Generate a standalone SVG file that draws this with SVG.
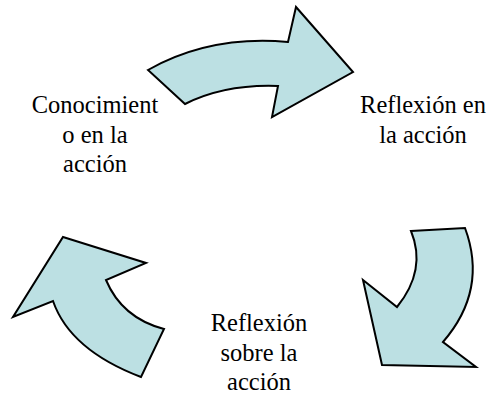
<svg xmlns="http://www.w3.org/2000/svg" width="490" height="394" viewBox="0 0 490 394">
<style>
.arrow{fill:#bce0e3;stroke:#000;stroke-width:2;stroke-linejoin:miter}
text{font-family:"Times New Roman","Liberation Serif",Tinos,"DejaVu Serif",serif;font-size:24.5px;fill:#000;text-anchor:middle}
</style>
<rect width="490" height="394" fill="#fff"/>
<g id="connectors">
<path id="arrow-top" class="arrow" d="M148,70 Q210,35 288,42 L296,7 L353,72 L272,117 L278,86 Q225,84 185,104 Z"/>
<path id="arrow-right" class="arrow" d="M411,231 L465,228 Q488,290 443,342 L476,367 L382,365 L363,280 L397,307 Q427,270 411,231 Z"/>
<path id="arrow-left" class="arrow" d="M63,237 L146,263 L106,280 Q122,318 164,329 L141,377 Q70,350 53,301 L13,317 Z"/>
</g>
<g id="node-conocimiento">
<text x="95" y="113">Conocimient</text>
<text x="95" y="143">o en la</text>
<text x="95" y="172">acción</text>
</g>
<g id="node-reflexion-en">
<text x="423" y="113">Reflexión en</text>
<text x="423" y="143">la acción</text>
</g>
<g id="node-reflexion-sobre">
<text x="259" y="331">Reflexión</text>
<text x="259" y="361">sobre la</text>
<text x="259" y="390">acción</text>
</g>
</svg>
